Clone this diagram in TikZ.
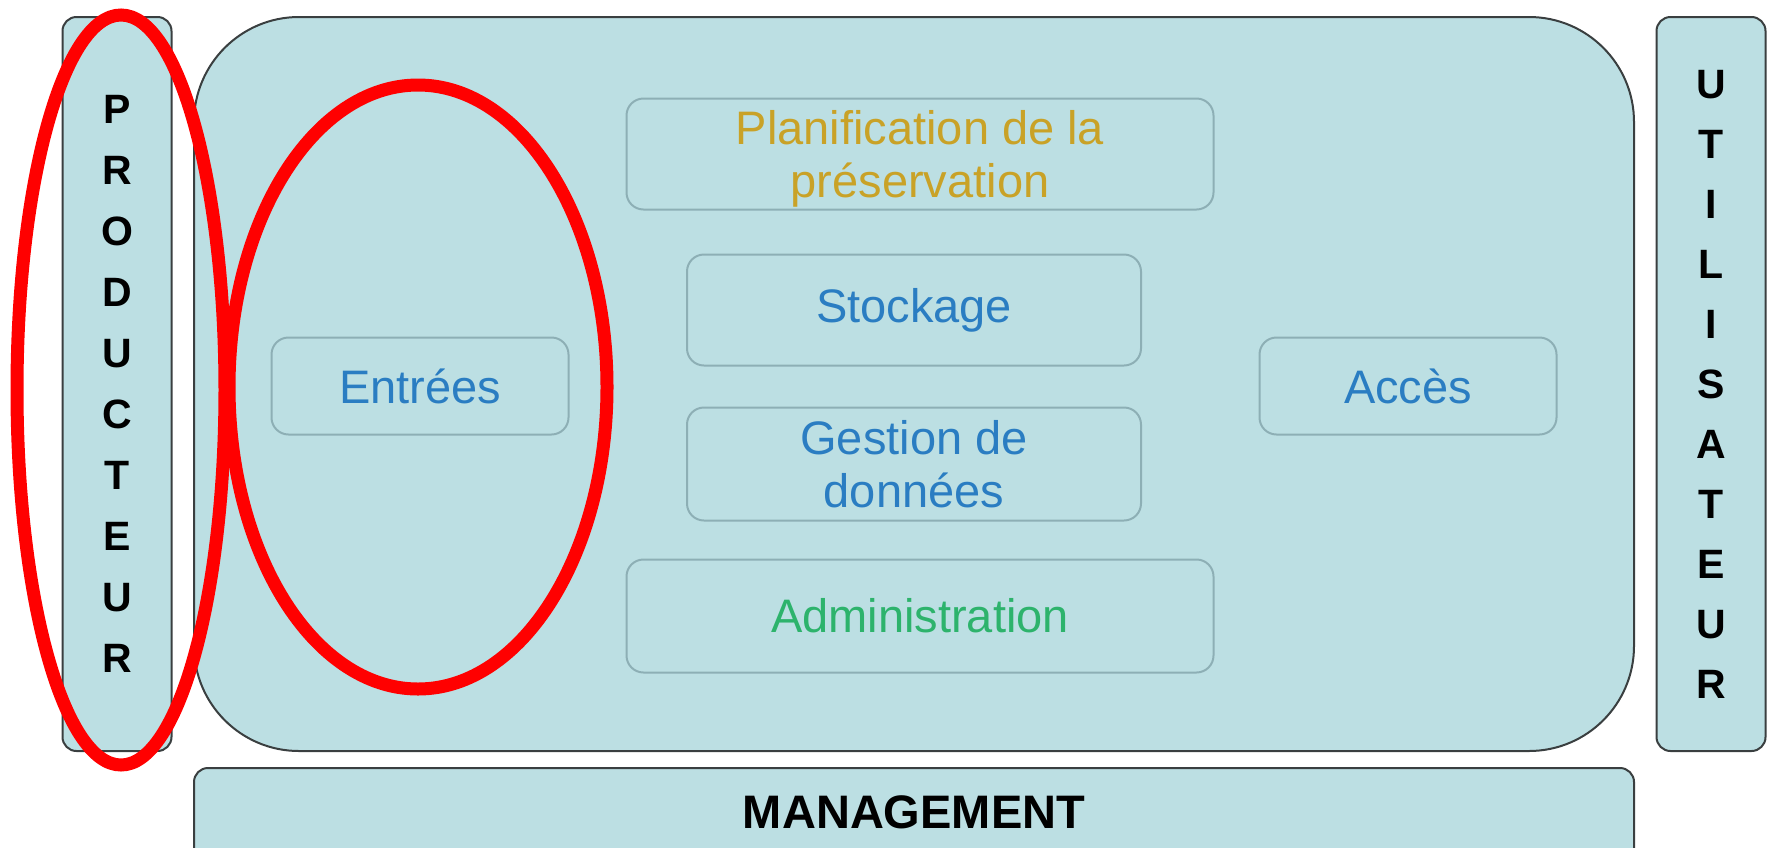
\documentclass[tikz,border=0pt]{standalone}
\usepackage{fontspec}
\setmainfont{Liberation Sans}
\usetikzlibrary{positioning}
\definecolor{paleblue}{HTML}{BCDFE3}
\definecolor{edgegray}{HTML}{8DAFB5}
\definecolor{darkedge}{HTML}{3A3F40}
\definecolor{plangold}{HTML}{C9A227}
\definecolor{modblue}{HTML}{2A7DC2}
\definecolor{modgreen}{HTML}{2DB36C}
\tikzset{
    module/.style ={
        shape=rectangle,
        rounded corners=17pt,
        draw=edgegray,
        line width=2pt,
        fill=paleblue,
        align=center,
        inner sep=0pt,
        font=\fontsize{47}{53}\selectfont
    },
    actor/.style ={
        shape=rectangle,
        rounded corners=14pt,
        draw=darkedge,
        line width=2pt,
        fill=paleblue,
        align=center,
        inner sep=0pt,
        minimum width=109pt,
        minimum height=734pt,
        font=\fontsize{41}{61}\selectfont\bfseries
    },
    ring/.style ={
        draw=red,
        line width=13pt
    }
}

\begin{document}
\begin{tikzpicture}[x=1pt,y=-1pt]
    \clip (0,0) rectangle (1771,847);
    \node[actor] (producteur) at (117,384) {P\\R\\O\\D\\U\\C\\T\\E\\U\\R};
    \node[actor,font=\fontsize{41}{60}\selectfont\bfseries,text depth=-16pt] (utilisateur) at (1711,384) {U\\T\\I\\L\\I\\S\\A\\T\\E\\U\\R};
    \node[shape=rectangle,rounded corners=105pt,draw=darkedge,line width=2pt,fill=paleblue,
          minimum width=1440pt,minimum height=734pt] (archive) at (914,384) {};
    \node[shape=rectangle,rounded corners=14pt,draw=darkedge,line width=2pt,fill=paleblue,
          minimum width=1440pt,inner sep=0pt,text height=60pt,text depth=40pt,
          font=\fontsize{47}{55}\selectfont\bfseries] (management) at (914,818) {MANAGEMENT};
    \node[module,text=plangold,minimum width=587pt,minimum height=111pt,text depth=-10pt] (planification) at (920,154) {Planification de la\\préservation};
    \node[module,text=modblue,minimum width=454pt,minimum height=111pt,below=43pt of planification,xshift=-6pt] (stockage) {Stockage};
    \node[module,text=modblue,minimum width=454pt,minimum height=113pt,below=40pt of stockage] (gestion) {Gestion de\\données};
    \node[module,text=modgreen,minimum width=587pt,minimum height=113pt,below=37pt of gestion,xshift=6pt] (administration) {Administration};
    \node[module,text=modblue,minimum width=297pt,minimum height=97pt] (entrees) at (420,386) {Entrées};
    \node[module,text=modblue,minimum width=297pt,minimum height=97pt] (acces) at (1408,386) {Accès};
    % red marks
    \draw[ring] (121,390) ellipse [x radius=104, y radius=375];
    \draw[ring] (418,387) ellipse [x radius=189, y radius=302];
\end{tikzpicture}
\end{document}
